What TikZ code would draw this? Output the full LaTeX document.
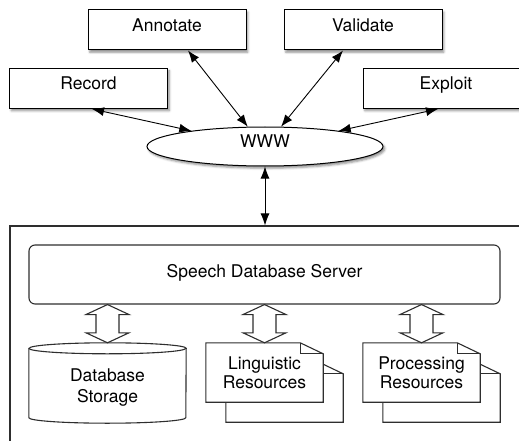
\documentclass[tikz,border=0pt]{standalone}
\usepackage{fontspec}
\setmainfont{TeX Gyre Heros}
\usetikzlibrary{calc,arrows.meta,shapes.geometric,shadows.blur}
\pgfdeclarelayer{back}
\pgfsetlayers{back,main}

% hollow two-way arrow between two tips lying on one vertical
\newcommand\dbllink[2]{%
  \draw[hollow] (#1) -- ($(#1)+(-21.5,10)$) -- ($(#1)+(-11.5,10)$)
    -- ($(#2)+(-11.5,-10)$) -- ($(#2)+(-21.5,-10)$) -- (#2)
    -- ($(#2)+(21.5,-10)$) -- ($(#2)+(11.5,-10)$)
    -- ($(#1)+(11.5,10)$) -- ($(#1)+(21.5,10)$) -- cycle;}

\tikzset{
  every node/.style={font=\fontsize{17.5}{20}\selectfont, inner sep=0pt},
  softshadow/.style={blur shadow={shadow xshift=1.8pt, shadow yshift=-2.2pt,
      shadow blur radius=2.2pt, shadow opacity=45}},
  task/.style={draw=black, line width=1pt, fill=white, softshadow,
      minimum width=158pt, minimum height=40pt, text height=13pt, text depth=10pt},
  net/.style={ellipse, draw=black, line width=1pt, fill=white, softshadow,
      minimum width=236pt, minimum height=39pt, text height=13pt, text depth=11pt},
  conn/.style={line width=0.9pt, draw=black,
      {Latex[length=12pt,width=9pt]}-{Latex[length=12pt,width=9pt]}},
  lowline/.style={draw=black!82, line width=1.1pt},
  frame/.style={lowline, minimum width=515pt, minimum height=215.5pt},
  server/.style={lowline, rounded corners=6pt, minimum width=471pt,
      minimum height=59pt, text height=13pt, text depth=8pt},
  store/.style={minimum width=157pt, minimum height=80pt},
  doc/.style={minimum width=117pt, minimum height=59pt, align=center,
      font=\fontsize{17.5}{19}\selectfont},
  page/.style={lowline, fill=white, line join=miter},
  hollow/.style={lowline, fill=white, line join=miter},
}

\begin{document}
\begin{tikzpicture}[x=1pt, y=-1pt]
\useasboundingbox (0,0) rectangle (519,441);

% clients on the web
\node[task] (ann) at (167,30) {Annotate};
\node[task] (val) at (363,30) {Validate};
\node[task] (rec) at (88.5,88.5) {Record};
\node[task, minimum width=166pt] (exp) at (446,88.5) {Exploit};
\node[net] (www) at (265,146.5) {WWW};

\draw[conn] ($(rec.south)+(3.5,0)$) -- (www.168);
\draw[conn] ($(ann.south)+(21,0)$) -- (www.131);
\draw[conn] ($(val.south)+(-20,0)$) -- (www.51);
\draw[conn] ($(exp.south)+(-8,0)$) -- (www.12);

% server side
\node[frame] (frame) at (267.5,333.75) {};
\draw[conn] (www.south) -- (www.south |- frame.north);

\node[server] (srv) at (264.5,274.5) {Speech Database Server};

\node[store, label={[name=dbtxt, align=center, yshift=-5pt,
    font=\fontsize{17.5}{21}\selectfont]center:{Database\\Storage}}]
  (db) at (107.5,383) {};
\node[doc] (ling) at (264.5,372.5) {Linguistic\\Resources};
\node[doc] (proc) at (421.5,372.5) {Processing\\Resources};

\begin{pgfonlayer}{back}
  % storage cylinder
  \draw[page] ($(db.north west)+(0,5.5)$) -- ($(db.south west)+(0,-5.5)$)
    arc[start angle=180, end angle=360, x radius=78.5pt, y radius=5.5pt]
    -- ($(db.north east)+(0,5.5)$)
    arc[start angle=0, end angle=180, x radius=78.5pt, y radius=5.5pt] -- cycle;
  \draw[lowline] ($(db.north west)+(0,5.5)$)
    arc[start angle=180, end angle=360, x radius=78.5pt, y radius=5.5pt];
  % stacked pages with a folded corner
  \foreach \d in {ling,proc}{
    \foreach \o in {20,0}{
      \draw[page] ($(\d.north west)+(\o,\o)$) -- ($(\d.north east)+(\o-23,\o)$)
        -- ($(\d.north east)+(\o,\o+11)$) -- ($(\d.south east)+(\o,\o)$)
        -- ($(\d.south west)+(\o,\o)$) -- cycle;
      \draw[lowline] ($(\d.north east)+(\o-23,\o)$) -- ($(\d.north east)+(\o-23,\o+11)$)
        -- ($(\d.north east)+(\o,\o+11)$);
    }
  }
\end{pgfonlayer}

\dbllink{srv.south -| db.north}{db.north}
\dbllink{srv.south -| ling.north}{ling.north}
\dbllink{srv.south -| proc.north}{proc.north}
\end{tikzpicture}
\end{document}
